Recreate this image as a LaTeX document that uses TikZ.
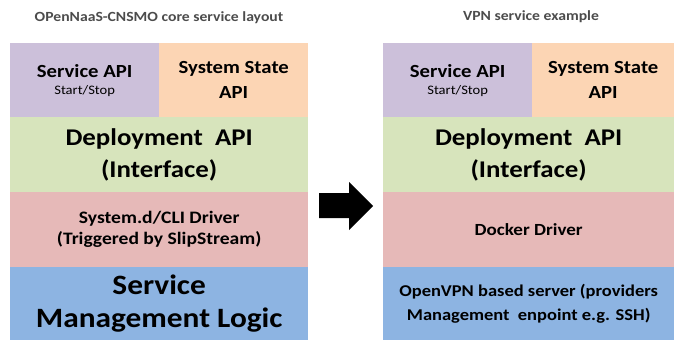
\documentclass[tikz,border=0pt]{standalone}
\usepackage{fontspec}
\setmainfont{Carlito}[FakeStretch=1.12]
\definecolor{apiviolet}{HTML}{CCC0DA}
\definecolor{stateorange}{HTML}{FCD5B4}
\definecolor{deploygreen}{HTML}{D7E4BC}
\definecolor{driverred}{HTML}{E6B9B8}
\definecolor{logicblue}{HTML}{8DB4E2}
\tikzset{layer/.style={anchor=north west, inner sep=0pt, align=center, text=black}}
\tikzset{caption/.style={font=\bfseries\fontsize{14}{16}\selectfont, text=black!70}}

\begin{document}
\begin{tikzpicture}[x=1pt, y=-1pt]
            \useasboundingbox (0,0) rectangle (674,340);
            % left stack: core service layout
            \node[caption] (ltitle) at (159,18) {OPenNaaS-CNSMO core service layout};
            \node[layer, fill=apiviolet, minimum width=149pt, minimum height=74pt, font=\bfseries\fontsize{18.5}{20}\selectfont] (lsvc) at (10,43) {Service API\\[-3pt]{\mdseries\fontsize{13}{14}\selectfont Start/Stop}};
            \node[layer, fill=stateorange, minimum width=149pt, minimum height=74pt, font=\bfseries\fontsize{18.5}{25}\selectfont] (lstate) at (159,43) {System State\\API};
            \node[layer, fill=deploygreen, minimum width=298pt, minimum height=75pt, font=\bfseries\fontsize{24}{32}\selectfont] (ldeploy) at (10,117) {Deployment~ API\\(Interface)};
            \node[layer, fill=driverred, minimum width=298pt, minimum height=75pt, font=\bfseries\fontsize{17.5}{21}\selectfont] (ldriver) at (10,192) {System.d/CLI Driver\\(Triggered by SlipStream)};
            \node[layer, fill=logicblue, minimum width=298pt, minimum height=73pt, font=\bfseries\fontsize{28}{33}\selectfont] (llogic) at (10,267) {Service\\Management Logic};
            % right stack: vpn example
            \node[caption] (rtitle) at (531,17) {VPN service example};
            \node[layer, fill=apiviolet, minimum width=149pt, minimum height=74pt, font=\bfseries\fontsize{18.5}{20}\selectfont] (rsvc) at (383,43) {Service API\\[-3pt]{\mdseries\fontsize{13}{14}\selectfont Start/Stop}};
            \node[layer, fill=stateorange, minimum width=142pt, minimum height=74pt, font=\bfseries\fontsize{18.5}{25}\selectfont] (rstate) at (532,43) {System State\\API};
            \node[layer, fill=deploygreen, minimum width=291pt, minimum height=75pt, font=\bfseries\fontsize{24}{32}\selectfont] (rdeploy) at (383,117) {Deployment~ API\\(Interface)};
            \node[layer, fill=driverred, minimum width=291pt, minimum height=75pt, font=\bfseries\fontsize{17}{20}\selectfont] (rdriver) at (383,192) {Docker Driver};
            \node[layer, fill=logicblue, minimum width=291pt, minimum height=73pt, font=\bfseries\fontsize{16.5}{24}\selectfont] (rlogic) at (383,267) {OpenVPN based server (providers\\Management~ enpoint e.g. SSH)};
            % block arrow between the stacks
            \fill (319,193) -- (349,193) -- (349,182) -- (373,206) -- (349,230) -- (349,218) -- (319,218) -- cycle;
        \end{tikzpicture}
\end{document}
